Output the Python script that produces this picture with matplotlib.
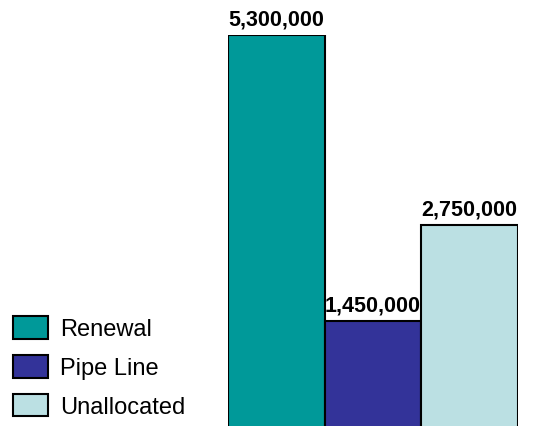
import matplotlib
matplotlib.use("Agg")
from matplotlib import pyplot as plt
from matplotlib.patches import Patch

categories = ["Renewal", "Pipe Line", "Unallocated"]
values = [5300000, 1450000, 2750000]
colors = ["#009999", "#333399", "#BBE0E3"]

plt.rcParams['font.family'] = ['Liberation Sans', 'DejaVu Sans']

fig = plt.figure(figsize=(5.57, 4.27), dpi=100)
ax = fig.add_axes([228/557, -3/427, 290/557, 394/427])

x = list(range(len(values)))
bars = ax.bar(x, values, width=1.0, color=colors, edgecolor="black", linewidth=1.5)
ax.set_xlim(-0.5, 2.5)
ax.set_ylim(0, 5300000)
ax.axis("off")

for b, v in zip(bars, values):
    ax.annotate("{:,}".format(v), (b.get_x() + b.get_width()/2, v),
                xytext=(0, 4), textcoords="offset points",
                ha="center", va="bottom", fontsize=15.5, fontweight="bold",
                annotation_clip=False)

handles = [Patch(facecolor=c, edgecolor="black", linewidth=1.5) for c in colors]
fig.legend(handles, categories, loc="lower left", bbox_to_anchor=(13/557, 8/427),
           frameon=False, fontsize=17, handlelength=1.48, handleheight=1.1,
           labelspacing=0.61, handletextpad=0.5, borderpad=0, borderaxespad=0)

fig.savefig("out.png", dpi=100)
